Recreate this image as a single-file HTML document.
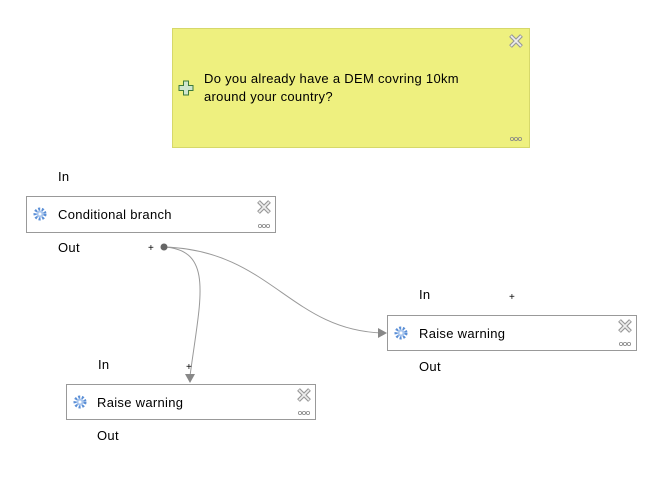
<!DOCTYPE html>
<html><head><style>
body{margin:0;background:#fff;}
svg text{font-family:"Liberation Sans",sans-serif;font-size:13px;fill:#000;letter-spacing:0.3px;}
</style></head><body>
<svg width="667" height="487" viewBox="0 0 667 487" xmlns="http://www.w3.org/2000/svg">
<defs>
<g id="gear"><circle r="5" fill="none" stroke="#5b8fd6" stroke-width="3" stroke-dasharray="2 1.6"/><circle r="3.5" fill="#a9c6ee"/><circle r="1.5" fill="#fff"/></g>
<g id="x"><path d="M-5.5,-5.5 L5.5,5.5 M5.5,-5.5 L-5.5,5.5" stroke="#999" stroke-width="4"/><path d="M-5,-5 L5,5 M5,-5 L-5,5" stroke="#eee" stroke-width="1.6"/></g>
<g id="dots"><circle cx="-4" r="1.6" fill="none" stroke="#888" stroke-width="0.8"/><circle cx="0" r="1.6" fill="none" stroke="#888" stroke-width="0.8"/><circle cx="4" r="1.6" fill="none" stroke="#888" stroke-width="0.8"/></g>
</defs>
<rect x="172.5" y="28.5" width="357" height="119" fill="#eef07f" stroke="#d6d86a"/>
<use href="#x" x="516" y="41"/>
<use href="#dots" x="516" y="139"/>
<g transform="translate(186,88)"><path d="M-2.5,-7 h5 v4.5 h4.5 v5 h-4.5 v4.5 h-5 v-4.5 h-4.5 v-5 h4.5z" fill="#cfe6cf" stroke="#3c7a3c"/></g>
<text x="204" y="83">Do you already have a DEM covring 10km</text>
<text x="204" y="101">around your country?</text>

<text x="58" y="181">In</text>
<rect x="26.5" y="196.5" width="249" height="36" fill="#fff" stroke="#999"/>
<use href="#gear" x="40" y="214"/>
<text x="58" y="219">Conditional branch</text>
<use href="#x" x="264" y="207"/><use href="#dots" x="264" y="226"/>
<text x="58" y="252">Out</text>
<text x="148" y="251" style="font-size:10px">+</text>

<path d="M164,247 C215,250 200,300 190,376" fill="none" stroke="#999" stroke-width="1"/>
<path d="M164,247 C270,250 290,330 382,333" fill="none" stroke="#999" stroke-width="1"/>
<polygon points="185,374 195,374 190,383" fill="#888"/>
<polygon points="378,328 378,338 387,333" fill="#888"/>
<circle cx="164" cy="247" r="3.5" fill="#666"/>

<text x="419" y="299">In</text>
<text x="509" y="300" style="font-size:10px">+</text>
<rect x="387.5" y="315.5" width="249" height="35" fill="#fff" stroke="#999"/>
<use href="#gear" x="401" y="333"/>
<text x="419" y="338">Raise warning</text>
<use href="#x" x="625" y="326"/><use href="#dots" x="625" y="344"/>
<text x="419" y="371">Out</text>

<text x="98" y="369">In</text>
<text x="186" y="370" style="font-size:10px">+</text>
<rect x="66.5" y="384.5" width="249" height="35" fill="#fff" stroke="#999"/>
<use href="#gear" x="80" y="402"/>
<text x="97" y="407">Raise warning</text>
<use href="#x" x="304" y="395"/><use href="#dots" x="304" y="413"/>
<text x="97" y="440">Out</text>
</svg>
</body></html>
